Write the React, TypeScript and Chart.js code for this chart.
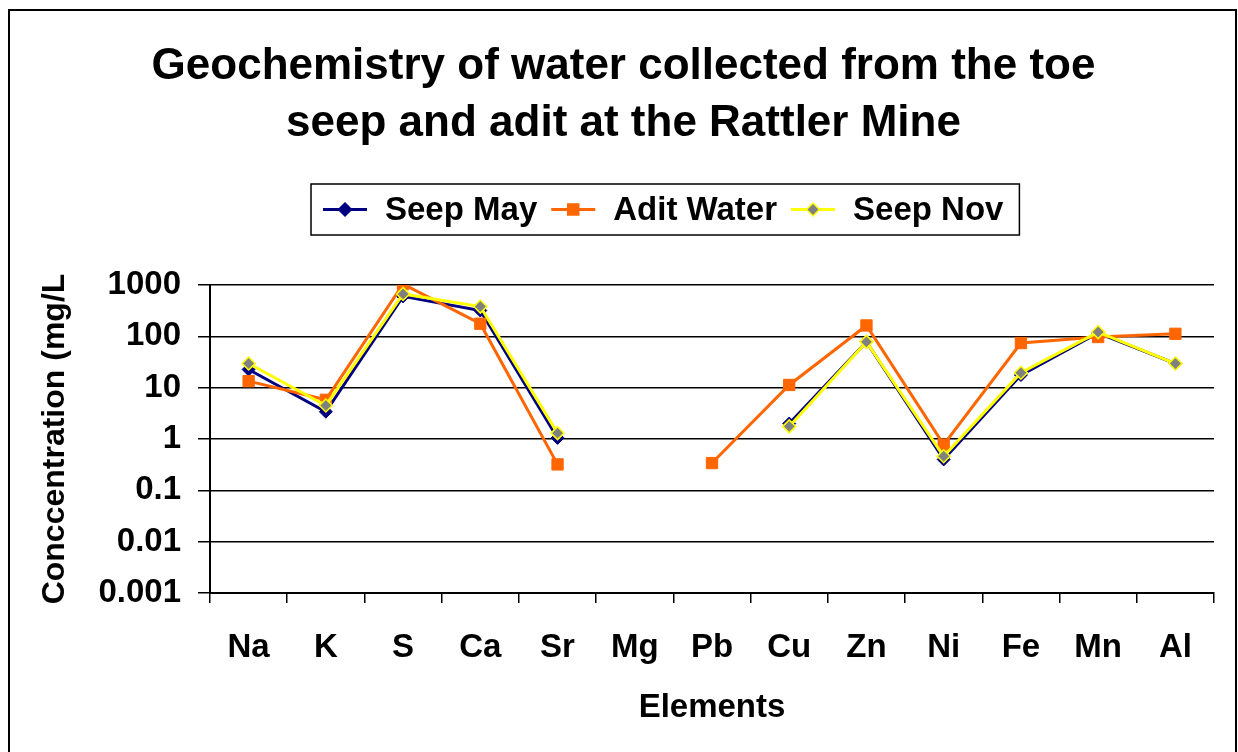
import React, { useEffect, useRef } from "react";
import { Chart, registerables } from "chart.js";

Chart.register(...registerables);

const elements = ["Na", "K", "S", "Ca", "Sr", "Mg", "Pb", "Cu", "Zn", "Ni", "Fe", "Mn", "Al"];
const seepMay: (number | null)[] = [22.6, 3.4, 600, 318, 1.05, null, null, 2.0, 78, 0.4, 17.6, 116, 29.5];
const aditWater: (number | null)[] = [13.4, 5.8, 1040, 176, 0.32, null, 0.34, 11.3, 163, 0.78, 74, 97, 112];
const seepNov: (number | null)[] = [29.6, 4.5, 670, 380, 1.3, null, null, 1.76, 78, 0.46, 19.5, 121, 29.5];
const yTicks = [0.001, 0.01, 0.1, 1, 10, 100, 1000];
const yTickLabels = ["0.001", "0.01", "0.1", "1", "10", "100", "1000"];
const titleLines = ["Geochemistry of water collected from the toe", "seep and adit at the Rattler Mine"];
const seriesNames = ["Seep May", "Adit Water", "Seep Nov"];

const FAMILY = "'Liberation Sans', Arial, Helvetica, sans-serif";
const NAVY = "#000080";
const ORANGE = "#FF6600";
const YELLOW = "#FFFF00";
const GRAY = "#808080";

function drawMarker(ctx: CanvasRenderingContext2D, kind: string, x: number, y: number, fill: string, stroke: string, r: number) {
  ctx.save();
  ctx.beginPath();
  if (kind === "rect") {
    ctx.rect(x - r, y - r, 2 * r, 2 * r);
  } else {
    ctx.moveTo(x, y - r);
    ctx.lineTo(x + r, y);
    ctx.lineTo(x, y + r);
    ctx.lineTo(x - r, y);
    ctx.closePath();
  }
  ctx.fillStyle = fill;
  ctx.fill();
  ctx.strokeStyle = stroke;
  ctx.lineWidth = 1.5;
  ctx.stroke();
  ctx.restore();
}

const frameAndLegend = {
  id: "frameAndLegend",
  afterDraw(chart: any) {
    const ctx: CanvasRenderingContext2D = chart.ctx;
    ctx.save();
    // outer frame
    ctx.strokeStyle = "#000";
    ctx.lineWidth = 2;
    ctx.strokeRect(9, 10, 1227, 800);

    // legend
    const styles = [
      { color: NAVY, kind: "diamond", fill: NAVY, stroke: NAVY, r: 6.5 },
      { color: ORANGE, kind: "rect", fill: ORANGE, stroke: ORANGE, r: 5.5 },
      { color: YELLOW, kind: "diamond", fill: GRAY, stroke: YELLOW, r: 6.5 },
    ];
    ctx.font = `bold 33px ${FAMILY}`;
    ctx.textBaseline = "middle";
    ctx.textAlign = "left";
    const boxLeft = 311;
    const boxTop = 184;
    const boxH = 51;
    const cy = boxTop + boxH / 2;
    const lineLen = 44;
    const textGap = 18;
    const itemGap = 14;
    let x = 323;
    seriesNames.forEach((name, i) => {
      const s = styles[i];
      ctx.strokeStyle = s.color;
      ctx.lineWidth = 3;
      ctx.beginPath();
      ctx.moveTo(x, cy);
      ctx.lineTo(x + lineLen, cy);
      ctx.stroke();
      drawMarker(ctx, s.kind, x + lineLen / 2, cy, s.fill, s.stroke, s.r);
      ctx.fillStyle = "#000";
      ctx.fillText(name, x + lineLen + textGap, cy + 1);
      x += lineLen + textGap + ctx.measureText(name).width + itemGap;
    });
    const boxRight = x - itemGap + 16;
    ctx.strokeStyle = "#000";
    ctx.lineWidth = 1.5;
    ctx.strokeRect(boxLeft, boxTop, boxRight - boxLeft, boxH);
    ctx.restore();
  },
};

export default function App() {
  const ref = useRef<HTMLCanvasElement | null>(null);

  useEffect(() => {
    if (!ref.current) return;
    const axisFont = { family: FAMILY, size: 33, weight: "bold" as const };
    const chart = new Chart(ref.current, {
      type: "line",
      data: {
        labels: elements,
        datasets: [
          {
            label: seriesNames[0],
            data: seepMay,
            borderColor: NAVY,
            backgroundColor: NAVY,
            borderWidth: 3,
            pointStyle: "rectRot",
            pointRadius: 6.5,
            pointBackgroundColor: NAVY,
            pointBorderColor: NAVY,
            pointBorderWidth: 1,
            order: 2,
            spanGaps: false,
            yAxisID: "y",
          },
          {
            label: seriesNames[1],
            data: aditWater,
            borderColor: ORANGE,
            backgroundColor: ORANGE,
            borderWidth: 3,
            pointStyle: "rect",
            pointRadius: 8,
            pointBackgroundColor: ORANGE,
            pointBorderColor: ORANGE,
            pointBorderWidth: 1,
            order: 1,
            spanGaps: false,
            yAxisID: "y",
          },
          {
            label: seriesNames[2],
            data: seepNov,
            borderColor: YELLOW,
            backgroundColor: GRAY,
            borderWidth: 3,
            pointStyle: "rectRot",
            pointRadius: 6.5,
            pointBackgroundColor: GRAY,
            pointBorderColor: YELLOW,
            pointBorderWidth: 1.5,
            order: 0,
            spanGaps: false,
            yAxisID: "y",
          },
        ],
      },
      options: {
        responsive: false,
        animation: false,
        layout: { padding: { left: 9, right: 0, top: 0, bottom: 0 } },
        plugins: {
          legend: { display: false },
          tooltip: { enabled: false },
          title: {
            display: true,
            text: titleLines,
            color: "#000",
            font: { family: FAMILY, size: 44, weight: "bold", lineHeight: 57 / 44 },
            padding: { top: 38.5, bottom: 132.5 },
          },
        },
        scales: {
          x: {
            type: "category",
            offset: true,
            grid: {
              offset: true,
              drawOnChartArea: false,
              drawTicks: true,
              tickLength: 10,
              color: "#000",
              lineWidth: 1.5,
            },
            border: { display: true, color: "#000", width: 2 },
            ticks: { font: axisFont, color: "#000", padding: 25, autoSkip: false, maxRotation: 0 },
            title: {
              display: true,
              text: "Elements",
              color: "#000",
              font: axisFont,
              padding: { top: 0, bottom: 24 },
            },
            afterFit: (s: any) => {
              s.height = 159;
            },
          },
          y: {
            type: "logarithmic",
            position: "left",
            min: 0.001,
            max: 1000,
            afterBuildTicks: (s: any) => {
              s.ticks = yTicks.map((v) => ({ value: v }));
            },
            ticks: {
              font: axisFont,
              color: "#000",
              padding: 17,
              autoSkip: false,
              callback: (v: any) => {
                const i = yTicks.findIndex((t) => Math.abs(t - Number(v)) < t * 1e-6);
                return i >= 0 ? yTickLabels[i] : "";
              },
            },
            grid: { color: "#000", lineWidth: 1.5, tickLength: 12, drawTicks: true },
            border: { display: true, color: "#000", width: 2 },
            title: {
              display: true,
              text: "Conccentration (mg/L",
              color: "#000",
              font: { family: FAMILY, size: 32, weight: "bold" },
              padding: { top: 26.8, bottom: 0 },
            },
            afterFit: (s: any) => {
              s.width = 201;
            },
          },
          yRight: {
            type: "linear",
            position: "right",
            display: true,
            grid: { display: false, drawTicks: false },
            border: { display: false },
            ticks: { display: false },
            afterFit: (s: any) => {
              s.width = 24;
            },
          },
        },
      },
      plugins: [frameAndLegend],
    });
    return () => chart.destroy();
  }, []);

  return (
    <div style={{ position: "fixed", left: 0, top: 0, width: 1238, height: 752, background: "#fff" }}>
      <canvas ref={ref} width={1238} height={752} style={{ display: "block" }} />
    </div>
  );
}
